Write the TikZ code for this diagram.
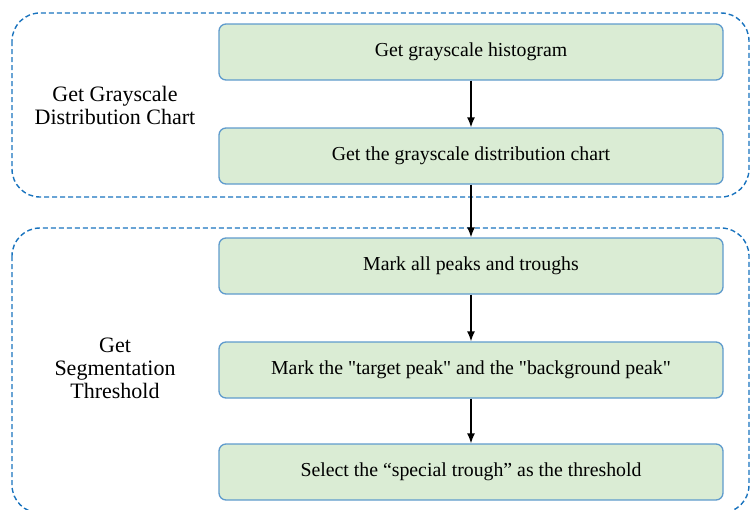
\documentclass[tikz,border=0pt]{standalone}
\usepackage{fontspec}
\setmainfont{Liberation Serif}[Ligatures=TeXOff]
\usetikzlibrary{arrows.meta}
\definecolor{boxgreen}{RGB}{218,236,212}
\definecolor{boxedge}{RGB}{95,155,205}
\definecolor{dashblue}{RGB}{25,115,190}

\begin{document}
\begin{tikzpicture}[x=1pt,y=-1pt,
  stepbox/.style={draw=boxedge, line width=1.3pt, fill=boxgreen, rounded corners=7pt,
    minimum width=504pt, minimum height=56pt, font=\fontsize{19.8}{22}\selectfont},
  groupbox/.style={draw=dashblue, line width=1.4pt, dash pattern=on 5pt off 3pt, rounded corners=28pt},
  grouplabel/.style={align=center, font=\fontsize{22}{23}\selectfont},
  flow/.style={-{Latex[length=10pt,width=8pt]}, line width=1.5pt}]
\useasboundingbox (0,0) rectangle (750,509);
% the two dashed groups
\draw[groupbox] (12,13) rectangle (749,197);
\draw[groupbox] (12,228) rectangle (749,513);
\node[grouplabel] (lgray) at (115,105) {Get Grayscale\\Distribution Chart};
\node[grouplabel] (lseg) at (115,368) {Get\\Segmentation\\Threshold};
% steps
\node[stepbox] (hist) at (471,52) {Get grayscale histogram};
\node[stepbox] (chart) at (471,156) {Get the grayscale distribution chart};
\node[stepbox] (peaks) at (471,266) {Mark all peaks and troughs};
\node[stepbox] (target) at (471,370) {Mark the "target peak" and the "background peak"};
\node[stepbox] (trough) at (471,472) {Select the “special trough” as the threshold};
\draw[flow] (hist) -- (chart);
\draw[flow] (chart) -- (peaks);
\draw[flow] (peaks) -- (target);
\draw[flow] (target) -- (trough);
\end{tikzpicture}
\end{document}
